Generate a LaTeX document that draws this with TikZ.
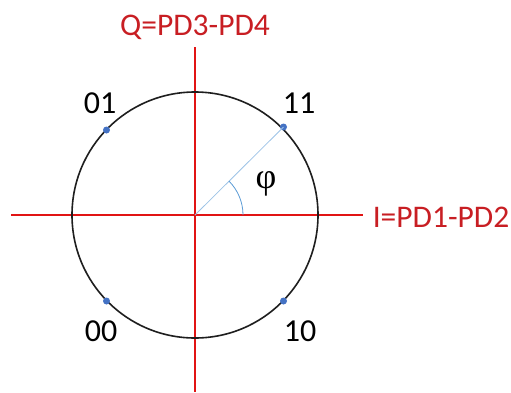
\documentclass[tikz,border=0pt]{standalone}
\usepackage{fontspec}
\setmainfont{Carlito}
\newfontfamily\phifont{Liberation Serif}
\begin{document}
\begin{tikzpicture}[x=1pt,y=-1pt,
  axis/.style={draw={rgb,255:red,225;green,20;blue,20}, line width=1.5pt},
  axlabel/.style={text={rgb,255:red,200;green,30;blue,35}, font=\fontsize{31.5}{31.5}\selectfont, anchor=base, inner sep=0pt},
  ptlabel/.style={text=black, font=\fontsize{32}{32}\selectfont, anchor=base, inner sep=0pt},
  dot/.style={circle, fill={rgb,255:red,68;green,114;blue,196}, inner sep=0pt, minimum size=7pt}]
\useasboundingbox (0,0) rectangle (511,392);
\coordinate (O) at (195,215);
\coordinate (Ileft) at (11,215);
\coordinate (Iright) at (363,215);
\coordinate (Qtop) at (195,47);
\coordinate (Qbot) at (195,392);
\draw[axis] (Ileft) -- (Iright);
\draw[axis] (Qtop) -- (Qbot);
\draw[line width=1.6pt, draw={rgb,255:red,30;green,30;blue,30}] (O) circle[radius=123];
\node[dot] (p11) at (283.5,127) {};
\node[dot] (p01) at (106.5,130) {};
\node[dot] (p00) at (106.5,301) {};
\node[dot] (p10) at (283.5,301) {};
\draw[line width=0.8pt, draw={rgb,255:red,157;green,195;blue,230}] (O) -- (p11.center);
\draw[line width=0.8pt, draw={rgb,255:red,91;green,155;blue,213}] ([xshift=48pt]O) arc[start angle=0, end angle=-45, radius=48];
\node[inner sep=0pt, font=\phifont\fontsize{36}{36}\selectfont] (phi) at (266,184) {φ};
\node[ptlabel] (l11) at (299,113) {11};
\node[ptlabel] (l01) at (100,113) {01};
\node[ptlabel] (l00) at (101,341) {00};
\node[ptlabel] (l10) at (300,341) {10};
\node[axlabel] (Ql) at (195,35) {Q=PD3-PD4};
\node[axlabel] (Il) at (441,227) {I=PD1-PD2};
\end{tikzpicture}
\end{document}
